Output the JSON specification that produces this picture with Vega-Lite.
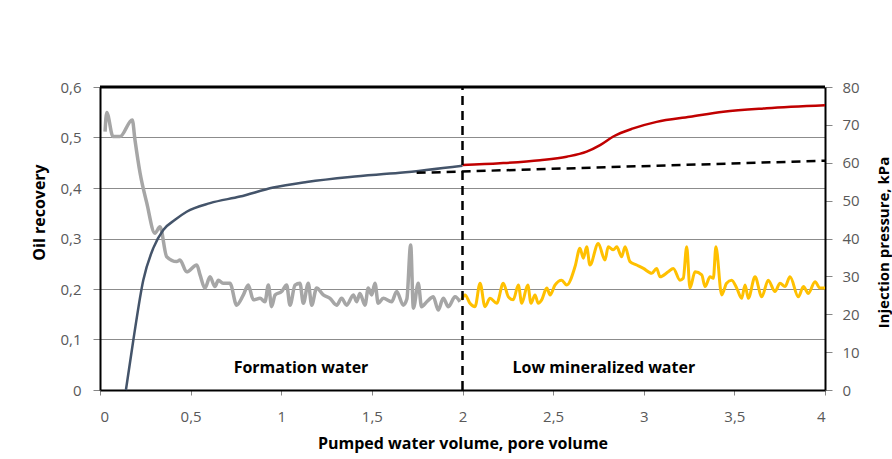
{
  "$schema": "https://vega.github.io/schema/vega-lite/v6.json",
  "width": 725,
  "height": 303,
  "autosize": {"type": "none"},
  "padding": {"left": 100, "top": 87, "right": 67, "bottom": 69},
  "background": "white",
  "config": {
    "font": "Open Sans",
    "view": {"stroke": null},
    "axis": {
      "labelFont": "Open Sans",
      "labelFontSize": 15,
      "labelColor": "#595959",
      "titleFont": "Open Sans",
      "titleFontSize": 15,
      "titleFontWeight": "bold",
      "titleColor": "black",
      "domainColor": "black",
      "domainWidth": 2,
      "tickColor": "#868686",
      "tickSize": 6
    }
  },
  "datasets": {
    "oil": [
      {"pv": 0.143, "recovery": 0.0, "stage": "formation"},
      {"pv": 0.184, "recovery": 0.099, "stage": "formation"},
      {"pv": 0.239, "recovery": 0.218, "stage": "formation"},
      {"pv": 0.294, "recovery": 0.281, "stage": "formation"},
      {"pv": 0.349, "recovery": 0.317, "stage": "formation"},
      {"pv": 0.414, "recovery": 0.337, "stage": "formation"},
      {"pv": 0.478, "recovery": 0.353, "stage": "formation"},
      {"pv": 0.607, "recovery": 0.37, "stage": "formation"},
      {"pv": 0.772, "recovery": 0.383, "stage": "formation"},
      {"pv": 0.956, "recovery": 0.401, "stage": "formation"},
      {"pv": 1.14, "recovery": 0.412, "stage": "formation"},
      {"pv": 1.379, "recovery": 0.422, "stage": "formation"},
      {"pv": 1.655, "recovery": 0.43, "stage": "formation"},
      {"pv": 2.0, "recovery": 0.444, "stage": "formation"},
      {"pv": 2.0, "recovery": 0.4455, "stage": "low"},
      {"pv": 2.207, "recovery": 0.449, "stage": "low"},
      {"pv": 2.428, "recovery": 0.455, "stage": "low"},
      {"pv": 2.575, "recovery": 0.462, "stage": "low"},
      {"pv": 2.685, "recovery": 0.472, "stage": "low"},
      {"pv": 2.759, "recovery": 0.485, "stage": "low"},
      {"pv": 2.832, "recovery": 0.502, "stage": "low"},
      {"pv": 2.942, "recovery": 0.518, "stage": "low"},
      {"pv": 3.071, "recovery": 0.531, "stage": "low"},
      {"pv": 3.255, "recovery": 0.541, "stage": "low"},
      {"pv": 3.439, "recovery": 0.551, "stage": "low"},
      {"pv": 3.678, "recovery": 0.558, "stage": "low"},
      {"pv": 4.0, "recovery": 0.564, "stage": "low"}
    ],
    "trend": [
      {"pv": 1.747, "recovery": 0.43},
      {"pv": 4.0, "recovery": 0.454}
    ],
    "boundary": [
      {"pv": 2.0, "recovery": 0.0},
      {"pv": 2.0, "recovery": 0.6}
    ],
    "frame": [
      {"pv": 0.0, "recovery": 0.6},
      {"pv": 4.0, "recovery": 0.6}
    ],
    "stages": [
      {"pv": 1.109, "recovery": 0.0436, "label": "Formation water"},
      {"pv": 2.78, "recovery": 0.0436, "label": "Low mineralized water"}
    ],
    "pressure": [
      {"pv": 0.028, "kpa": 68.2, "stage": "formation"},
      {"pv": 0.037, "kpa": 73.3, "stage": "formation"},
      {"pv": 0.072, "kpa": 66.9, "stage": "formation"},
      {"pv": 0.11, "kpa": 66.9, "stage": "formation"},
      {"pv": 0.178, "kpa": 71.3, "stage": "formation"},
      {"pv": 0.193, "kpa": 66.0, "stage": "formation"},
      {"pv": 0.221, "kpa": 57.3, "stage": "formation"},
      {"pv": 0.258, "kpa": 49.4, "stage": "formation"},
      {"pv": 0.303, "kpa": 41.4, "stage": "formation"},
      {"pv": 0.331, "kpa": 43.1, "stage": "formation"},
      {"pv": 0.368, "kpa": 35.2, "stage": "formation"},
      {"pv": 0.423, "kpa": 33.9, "stage": "formation"},
      {"pv": 0.441, "kpa": 34.3, "stage": "formation"},
      {"pv": 0.478, "kpa": 31.2, "stage": "formation"},
      {"pv": 0.534, "kpa": 33.0, "stage": "formation"},
      {"pv": 0.552, "kpa": 30.4, "stage": "formation"},
      {"pv": 0.579, "kpa": 26.9, "stage": "formation"},
      {"pv": 0.607, "kpa": 29.9, "stage": "formation"},
      {"pv": 0.634, "kpa": 27.3, "stage": "formation"},
      {"pv": 0.653, "kpa": 29.0, "stage": "formation"},
      {"pv": 0.679, "kpa": 28.2, "stage": "formation"},
      {"pv": 0.717, "kpa": 28.2, "stage": "formation"},
      {"pv": 0.754, "kpa": 22.4, "stage": "formation"},
      {"pv": 0.791, "kpa": 25.1, "stage": "formation"},
      {"pv": 0.818, "kpa": 27.7, "stage": "formation"},
      {"pv": 0.846, "kpa": 23.8, "stage": "formation"},
      {"pv": 0.883, "kpa": 24.2, "stage": "formation"},
      {"pv": 0.91, "kpa": 23.3, "stage": "formation"},
      {"pv": 0.929, "kpa": 27.7, "stage": "formation"},
      {"pv": 0.947, "kpa": 22.0, "stage": "formation"},
      {"pv": 0.966, "kpa": 25.1, "stage": "formation"},
      {"pv": 1.002, "kpa": 26.0, "stage": "formation"},
      {"pv": 1.03, "kpa": 27.7, "stage": "formation"},
      {"pv": 1.048, "kpa": 22.4, "stage": "formation"},
      {"pv": 1.076, "kpa": 27.7, "stage": "formation"},
      {"pv": 1.103, "kpa": 28.2, "stage": "formation"},
      {"pv": 1.122, "kpa": 22.9, "stage": "formation"},
      {"pv": 1.149, "kpa": 28.2, "stage": "formation"},
      {"pv": 1.168, "kpa": 22.4, "stage": "formation"},
      {"pv": 1.195, "kpa": 26.9, "stage": "formation"},
      {"pv": 1.232, "kpa": 25.1, "stage": "formation"},
      {"pv": 1.269, "kpa": 24.2, "stage": "formation"},
      {"pv": 1.306, "kpa": 22.4, "stage": "formation"},
      {"pv": 1.333, "kpa": 24.2, "stage": "formation"},
      {"pv": 1.361, "kpa": 22.4, "stage": "formation"},
      {"pv": 1.398, "kpa": 25.1, "stage": "formation"},
      {"pv": 1.416, "kpa": 23.3, "stage": "formation"},
      {"pv": 1.434, "kpa": 25.5, "stage": "formation"},
      {"pv": 1.462, "kpa": 22.4, "stage": "formation"},
      {"pv": 1.48, "kpa": 26.9, "stage": "formation"},
      {"pv": 1.499, "kpa": 25.1, "stage": "formation"},
      {"pv": 1.517, "kpa": 28.2, "stage": "formation"},
      {"pv": 1.535, "kpa": 22.9, "stage": "formation"},
      {"pv": 1.563, "kpa": 24.2, "stage": "formation"},
      {"pv": 1.609, "kpa": 23.3, "stage": "formation"},
      {"pv": 1.637, "kpa": 26.0, "stage": "formation"},
      {"pv": 1.673, "kpa": 22.4, "stage": "formation"},
      {"pv": 1.693, "kpa": 24.0, "stage": "formation"},
      {"pv": 1.714, "kpa": 38.3, "stage": "formation"},
      {"pv": 1.729, "kpa": 21.6, "stage": "formation"},
      {"pv": 1.756, "kpa": 28.2, "stage": "formation"},
      {"pv": 1.774, "kpa": 22.0, "stage": "formation"},
      {"pv": 1.803, "kpa": 23.3, "stage": "formation"},
      {"pv": 1.839, "kpa": 24.6, "stage": "formation"},
      {"pv": 1.866, "kpa": 21.1, "stage": "formation"},
      {"pv": 1.894, "kpa": 24.2, "stage": "formation"},
      {"pv": 1.922, "kpa": 22.0, "stage": "formation"},
      {"pv": 1.959, "kpa": 24.6, "stage": "formation"},
      {"pv": 1.986, "kpa": 23.3, "stage": "formation"},
      {"pv": 1.995, "kpa": 23.8, "stage": "low"},
      {"pv": 2.014, "kpa": 25.1, "stage": "low"},
      {"pv": 2.041, "kpa": 22.9, "stage": "low"},
      {"pv": 2.069, "kpa": 22.0, "stage": "low"},
      {"pv": 2.097, "kpa": 28.2, "stage": "low"},
      {"pv": 2.124, "kpa": 22.0, "stage": "low"},
      {"pv": 2.152, "kpa": 24.2, "stage": "low"},
      {"pv": 2.189, "kpa": 22.9, "stage": "low"},
      {"pv": 2.225, "kpa": 28.2, "stage": "low"},
      {"pv": 2.253, "kpa": 24.6, "stage": "low"},
      {"pv": 2.28, "kpa": 23.8, "stage": "low"},
      {"pv": 2.308, "kpa": 27.7, "stage": "low"},
      {"pv": 2.327, "kpa": 22.9, "stage": "low"},
      {"pv": 2.36, "kpa": 27.7, "stage": "low"},
      {"pv": 2.378, "kpa": 22.9, "stage": "low"},
      {"pv": 2.4, "kpa": 25.1, "stage": "low"},
      {"pv": 2.418, "kpa": 22.9, "stage": "low"},
      {"pv": 2.437, "kpa": 23.8, "stage": "low"},
      {"pv": 2.465, "kpa": 26.9, "stage": "low"},
      {"pv": 2.483, "kpa": 25.1, "stage": "low"},
      {"pv": 2.51, "kpa": 27.7, "stage": "low"},
      {"pv": 2.547, "kpa": 29.0, "stage": "low"},
      {"pv": 2.575, "kpa": 27.7, "stage": "low"},
      {"pv": 2.621, "kpa": 32.6, "stage": "low"},
      {"pv": 2.648, "kpa": 37.4, "stage": "low"},
      {"pv": 2.667, "kpa": 34.8, "stage": "low"},
      {"pv": 2.685, "kpa": 37.8, "stage": "low"},
      {"pv": 2.703, "kpa": 33.0, "stage": "low"},
      {"pv": 2.749, "kpa": 38.7, "stage": "low"},
      {"pv": 2.786, "kpa": 34.3, "stage": "low"},
      {"pv": 2.804, "kpa": 37.8, "stage": "low"},
      {"pv": 2.832, "kpa": 37.0, "stage": "low"},
      {"pv": 2.851, "kpa": 37.8, "stage": "low"},
      {"pv": 2.878, "kpa": 35.2, "stage": "low"},
      {"pv": 2.897, "kpa": 37.8, "stage": "low"},
      {"pv": 2.924, "kpa": 33.9, "stage": "low"},
      {"pv": 2.961, "kpa": 33.0, "stage": "low"},
      {"pv": 2.998, "kpa": 32.1, "stage": "low"},
      {"pv": 3.044, "kpa": 30.8, "stage": "low"},
      {"pv": 3.071, "kpa": 32.1, "stage": "low"},
      {"pv": 3.09, "kpa": 29.9, "stage": "low"},
      {"pv": 3.135, "kpa": 31.2, "stage": "low"},
      {"pv": 3.163, "kpa": 32.1, "stage": "low"},
      {"pv": 3.2, "kpa": 29.0, "stage": "low"},
      {"pv": 3.218, "kpa": 29.5, "stage": "low"},
      {"pv": 3.237, "kpa": 37.8, "stage": "low"},
      {"pv": 3.255, "kpa": 26.9, "stage": "low"},
      {"pv": 3.283, "kpa": 31.2, "stage": "low"},
      {"pv": 3.32, "kpa": 30.4, "stage": "low"},
      {"pv": 3.338, "kpa": 27.3, "stage": "low"},
      {"pv": 3.366, "kpa": 29.9, "stage": "low"},
      {"pv": 3.384, "kpa": 29.5, "stage": "low"},
      {"pv": 3.398, "kpa": 37.8, "stage": "low"},
      {"pv": 3.43, "kpa": 25.1, "stage": "low"},
      {"pv": 3.457, "kpa": 28.2, "stage": "low"},
      {"pv": 3.485, "kpa": 29.0, "stage": "low"},
      {"pv": 3.513, "kpa": 26.9, "stage": "low"},
      {"pv": 3.54, "kpa": 24.2, "stage": "low"},
      {"pv": 3.559, "kpa": 27.7, "stage": "low"},
      {"pv": 3.577, "kpa": 24.2, "stage": "low"},
      {"pv": 3.614, "kpa": 29.9, "stage": "low"},
      {"pv": 3.651, "kpa": 24.6, "stage": "low"},
      {"pv": 3.687, "kpa": 29.0, "stage": "low"},
      {"pv": 3.724, "kpa": 26.0, "stage": "low"},
      {"pv": 3.752, "kpa": 28.2, "stage": "low"},
      {"pv": 3.779, "kpa": 27.3, "stage": "low"},
      {"pv": 3.807, "kpa": 29.9, "stage": "low"},
      {"pv": 3.853, "kpa": 24.6, "stage": "low"},
      {"pv": 3.881, "kpa": 27.3, "stage": "low"},
      {"pv": 3.908, "kpa": 25.5, "stage": "low"},
      {"pv": 3.945, "kpa": 28.6, "stage": "low"},
      {"pv": 3.972, "kpa": 26.9, "stage": "low"},
      {"pv": 4.0, "kpa": 26.9, "stage": "low"}
    ]
  },
  "encoding": {
    "x": {
      "field": "pv",
      "type": "quantitative",
      "scale": {"domain": [0, 4], "nice": false},
      "axis": {
        "title": "Pumped water volume, pore volume",
        "titleFontSize": 16,
        "values": [0, 0.5, 1, 1.5, 2, 2.5, 3, 3.5, 4],
        "labelExpr": "replace(format(datum.value, '.1~f'), '.', ',')",
        "grid": false,
        "tickSize": 5,
        "labelPadding": 14,
        "titlePadding": 11
      }
    }
  },
  "layer": [
    {
      "data": {"name": "pressure"},
      "encoding": {
        "y": {
          "field": "kpa",
          "type": "quantitative",
          "scale": {"domain": [0, 80], "nice": false},
          "axis": {
            "orient": "right",
            "title": "Injection pressure, kPa",
            "titleAngle": 270,
            "titleAlign": "center",
            "titleBaseline": "middle",
            "titleX": 58,
            "titleY": 155,
            "values": [0, 10, 20, 30, 40, 50, 60, 70, 80],
            "grid": false,
            "tickSize": 7,
            "labelPadding": 10
          }
        }
      },
      "layer": [
        {
          "transform": [{"filter": "datum.stage === 'formation'"}],
          "mark": {"type": "line", "color": "#a6a6a6", "strokeWidth": 3.5, "interpolate": "monotone"}
        },
        {
          "transform": [{"filter": "datum.stage === 'low'"}],
          "mark": {"type": "line", "color": "#ffc000", "strokeWidth": 3, "interpolate": "monotone"}
        }
      ]
    },
    {
      "encoding": {
        "y": {
          "field": "recovery",
          "type": "quantitative",
          "scale": {"domain": [0, 0.6], "nice": false},
          "axis": {
            "orient": "left",
            "title": "Oil recovery",
            "titleFontSize": 16,
            "values": [0, 0.1, 0.2, 0.3, 0.4, 0.5, 0.6],
            "labelExpr": "replace(format(datum.value, '.1~f'), '.', ',')",
            "grid": true,
            "gridColor": "#8c8c8c",
            "gridWidth": 1,
            "tickSize": 7,
            "labelPadding": 12,
            "titlePadding": 12,
            "titleY": 125
          }
        }
      },
      "layer": [
        {
          "data": {"name": "oil"},
          "transform": [{"filter": "datum.stage === 'formation'"}],
          "mark": {"type": "line", "color": "#44546a", "strokeWidth": 2.5, "interpolate": "monotone"}
        },
        {
          "data": {"name": "oil"},
          "transform": [{"filter": "datum.stage === 'low'"}],
          "mark": {"type": "line", "color": "#c00000", "strokeWidth": 2.5, "interpolate": "monotone"}
        },
        {
          "data": {"name": "trend"},
          "mark": {"type": "line", "color": "black", "strokeWidth": 2.5, "strokeDash": [9, 6]}
        },
        {
          "data": {"name": "boundary"},
          "mark": {"type": "line", "color": "black", "strokeWidth": 2.5, "strokeDash": [9, 6]}
        },
        {
          "data": {"name": "frame"},
          "mark": {"type": "line", "color": "black", "strokeWidth": 3}
        },
        {
          "data": {"name": "stages"},
          "mark": {"type": "text", "font": "Open Sans", "fontSize": 16, "fontWeight": "bold", "color": "black"},
          "encoding": {"text": {"field": "label"}}
        }
      ]
    }
  ],
  "resolve": {"scale": {"y": "independent"}}
}
